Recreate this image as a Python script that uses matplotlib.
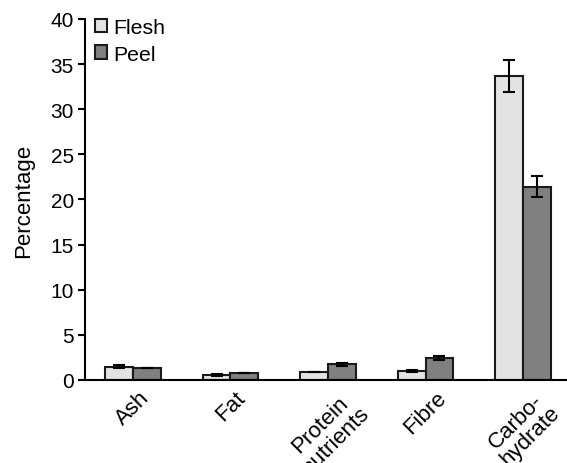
import numpy as np
import matplotlib.pyplot as plt

plt.rcParams['font.family'] = ['Liberation Sans', 'DejaVu Sans']

categories = ['Ash', 'Fat', 'Protein\nnutrients', 'Fibre', 'Carbo-\nhydrate']
flesh = [1.47, 0.59, 0.85, 0.99, 33.7]
peel = [1.36, 0.77, 1.73, 2.43, 21.4]
flesh_err = [0.15, 0.12, 0.0, 0.12, 1.75]
peel_err = [0.0, 0.0, 0.15, 0.2, 1.15]

fig = plt.figure(figsize=(5.67, 4.64), dpi=100)
ax = fig.add_axes([0.1499, 0.1789, 0.8501, 0.7780])

x = np.arange(len(categories))
w = 0.284
ekw = dict(elinewidth=1.5, capthick=1.5)
ax.bar(x - w/2, flesh, w, yerr=flesh_err, capsize=4, color='#e3e3e3',
       edgecolor='#1a1a1a', linewidth=1.5, label='Flesh', error_kw=ekw)
ax.bar(x + w/2, peel, w, yerr=peel_err, capsize=4, color='#808080',
       edgecolor='#1a1a1a', linewidth=1.5, label='Peel', error_kw=ekw)

ax.set_xlim(-0.492, 4.451)
ax.set_ylim(0, 40)
ax.set_yticks(range(0, 41, 5))
ax.set_xticks(x)
ax.set_xticklabels(categories, rotation=45, ha='center', va='top',
                   multialignment='center', fontsize=16, linespacing=1.0)
ax.tick_params(axis='x', length=0, pad=5)
ax.tick_params(axis='y', labelsize=15, width=1.5, length=5, pad=3)
ax.set_ylabel('Percentage', fontsize=16, labelpad=12)

for s in ['top', 'right']:
    ax.spines[s].set_visible(False)
for s in ['left', 'bottom']:
    ax.spines[s].set_linewidth(1.5)

ax.legend(loc='upper left', frameon=False, fontsize=15.3, handlelength=0.6,
          handleheight=0.6, handletextpad=0.25, borderaxespad=0,
          borderpad=0.3, labelspacing=0.35, bbox_to_anchor=(0.007, 1.02))

fig.savefig('out.png', dpi=100)
